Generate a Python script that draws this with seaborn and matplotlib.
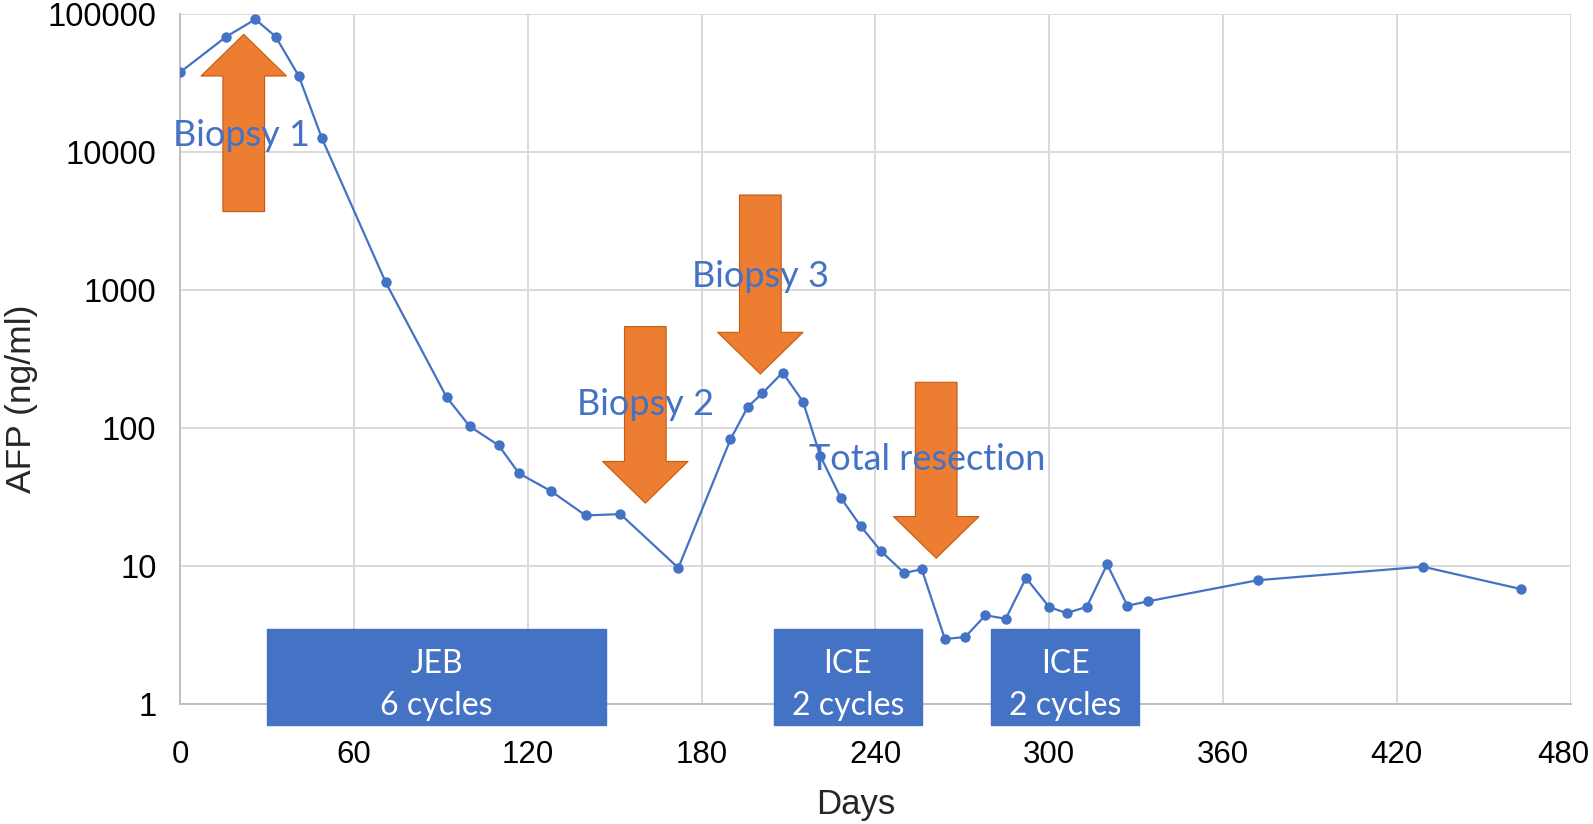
import matplotlib
matplotlib.use("Agg")
import matplotlib.pyplot as plt
import matplotlib.ticker as mticker
import matplotlib.transforms as mtransforms
import seaborn as sns
import numpy as np
import pandas as pd

# AFP values
days = [0, 16, 26, 33, 41, 49, 71, 92, 100, 110, 117, 128, 140, 152, 172,
        190, 196, 201, 208, 215, 221, 228, 235, 242, 250, 256, 264, 271, 278,
        285, 292, 300, 306, 313, 320, 327, 334, 372, 429, 463]
afp = [38000, 69000, 92000, 69000, 35700, 12600, 1140, 168, 103, 75, 47, 35,
       23.3, 23.8, 9.7, 83, 143, 179, 253, 156, 63, 31.4, 19.4, 12.8, 8.9, 9.5,
       2.96, 3.06, 4.4, 4.15, 8.2, 5.05, 4.56, 5.07, 10.3, 5.16, 5.55, 7.9, 9.9, 6.8]

# treatment blocks
tx_start = [30, 205, 280]
tx_end = [147, 256, 331]
tx_labels = ["JEB\n6 cycles", "ICE\n2 cycles", "ICE\n2 cycles"]

# events: label, arrow x, arrow tail, arrow tip, text x, text y, alignment
ev_labels = ["Biopsy 1", "Biopsy 2", "Biopsy 3", "Total resection"]
ev_day = [22, 160.6, 200.3, 261]
ev_tail = [3715, 545, 4900, 215]
ev_tip = [71600, 28.6, 247, 11.4]
ev_text_x = [21.2, 160.5, 200.3, 217]
ev_text_y = [13300, 148, 1250, 59]
ev_ha = ["center", "center", "center", "left"]

xticks = [0, 60, 120, 180, 240, 300, 360, 420, 480]
yticks = [1, 10, 100, 1000, 10000, 100000]

blue = "#4472C4"
orange = "#ED7D31"

sns.set_theme(style="white")
plt.rcParams["font.family"] = ["Liberation Sans", "DejaVu Sans"]

fig = plt.figure(figsize=(15.93, 8.24), dpi=100)
ax = fig.add_axes([0.113, 0.1456, 0.873, 0.837])

df = pd.DataFrame({"Days": days, "AFP": afp})
sns.lineplot(data=df, x="Days", y="AFP", color=blue, marker="o", markersize=7.5,
             markeredgewidth=0, linewidth=1.6, ax=ax, zorder=3)

ax.set_yscale("log")
ax.set_xlim(0, 480)
ax.set_ylim(1, 100000)
ax.set_xticks(xticks)
ax.set_yticks(yticks)
ax.yaxis.set_major_formatter(mticker.FuncFormatter(lambda v, p: f"{v:.0f}"))
ax.yaxis.set_minor_locator(mticker.NullLocator())
ax.tick_params(axis="both", length=0, colors="black")
ax.tick_params(axis="x", pad=26, labelsize=22.5)
ax.tick_params(axis="y", pad=17, labelsize=23.5)
ax.grid(True, color="#D9D9D9", linewidth=1.4)
for s in ["top", "right"]:
    ax.spines[s].set_visible(False)
for s in ["left", "bottom"]:
    ax.spines[s].set_color("#BFBFBF")
    ax.spines[s].set_linewidth(1.4)

# keep the last x label inside the figure
fig.canvas.draw()
last = ax.get_xticklabels()[-1]
last.set_transform(last.get_transform() +
                   mtransforms.ScaledTranslation(-5 / 72, 0, fig.dpi_scale_trans))

ax.set_xlabel("Days", fontsize=25)
ax.set_ylabel("AFP (ng/ml)", fontsize=25.5)
ax.xaxis.set_label_coords(0.486, -0.146)
ax.xaxis.label.set_va("center")
ax.yaxis.set_label_coords(-0.114, 0.443)
ax.yaxis.label.set_va("center")

# treatment boxes (extend below the axis)
widths = [e - s for s, e in zip(tx_start, tx_end)]
ax.bar(tx_start, [3.5 - 0.70] * 3, width=widths, bottom=0.70, align="edge",
       color=blue, edgecolor=blue, clip_on=False, zorder=4)
for s, e, lab in zip(tx_start, tx_end, tx_labels):
    ax.text((s + e) / 2, 1.38, lab, ha="center", va="center", color="white",
            fontsize=23, linespacing=1.5, family=["Lato", "DejaVu Sans"],
            clip_on=False, zorder=5)

# orange arrows and blue labels
for x, tail, tip in zip(ev_day, ev_tail, ev_tip):
    ax.annotate("", xy=(x, tip), xytext=(x, tail),
                arrowprops=dict(arrowstyle="simple,head_length=1,head_width=2.05,tail_width=1",
                                mutation_scale=30, fc=orange, ec="#C55A11", lw=0.8,
                                shrinkA=0, shrinkB=0), zorder=5)
for lab, tx, ty, ha in zip(ev_labels, ev_text_x, ev_text_y, ev_ha):
    ax.text(tx, ty, lab, ha=ha, va="center", color=blue, fontsize=26,
            family=["Lato", "DejaVu Sans"], zorder=6)

fig.savefig("out.png", dpi=100)
